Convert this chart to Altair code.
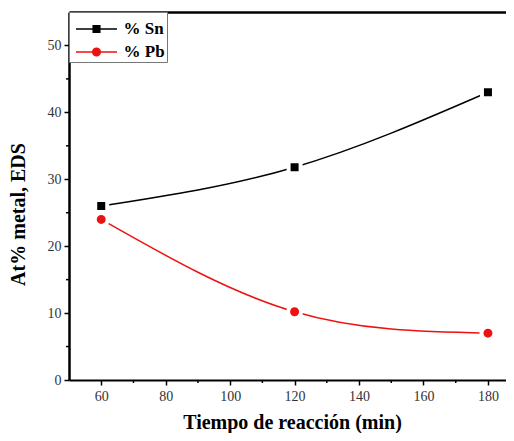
import altair as alt
import pandas as pd

# ---- data ----
tiempo = [60, 120, 180]
sn = [26.0, 31.8, 43.0]
pb = [24.0, 10.2, 7.0]
series = ["% Sn", "% Pb"]
colors = ["#000000", "#ee1111"]
x_ticks = [60, 80, 100, 120, 140, 160, 180]
x_minor = [70, 90, 110, 130, 150, 170]
y_ticks = [0, 10, 20, 30, 40, 50]
y_minor = [5, 15, 25, 35, 45]

W, H = 437, 368
FONT = "Liberation Serif"

df = pd.DataFrame({
    "t": tiempo * 2,
    "v": sn + pb,
    "s": [series[0]] * 3 + [series[1]] * 3,
})
df["leg"] = df["s"]
dx_minor = pd.DataFrame({"m": x_minor})
dy_minor = pd.DataFrame({"m": y_minor})

xs = alt.Scale(domain=[50, 185.6], nice=False, zero=False)
ys = alt.Scale(domain=[0, 55], nice=False, zero=False)
cs = alt.Scale(domain=series, range=colors)

x_axis = alt.Axis(
    values=x_ticks, title="Tiempo de reacción (min)", grid=False,
    domainColor="black", domainWidth=2.2, tickColor="black", tickWidth=1.5, tickSize=5,
    labelFont=FONT, labelFontSize=14, labelColor="#333", labelPadding=4,
    titleFont=FONT, titleFontSize=20, titleFontWeight="bold", titleColor="black",
    titleX=223, titleY=42, titleBaseline="middle",
)
y_axis = alt.Axis(
    values=y_ticks, title="At% metal, EDS", grid=False,
    domainColor="black", domainWidth=2.5, tickColor="black", tickWidth=1.5, tickSize=5,
    labelFont=FONT, labelFontSize=14, labelColor="#333", labelPadding=3,
    titleFont=FONT, titleFontSize=20, titleFontWeight="bold", titleColor="black",
    titleX=-51, titleY=202, titleBaseline="middle", titleAngle=-90,
)
top_axis = alt.Axis(orient="top", labels=False, ticks=False, title=None, grid=False,
                    domainColor="black", domainWidth=2.5)

lines = alt.Chart(df).mark_line(interpolate="natural", strokeWidth=1.5).encode(
    x=alt.X("t:Q", scale=xs, axis=x_axis),
    y=alt.Y("v:Q", scale=ys, axis=y_axis),
    color=alt.Color("s:N", scale=cs, legend=None),
    detail="s:N",
)

points = alt.Chart(df).mark_point(filled=True, opacity=1, stroke="white", strokeWidth=4).encode(
    x=alt.X("t:Q", scale=xs, axis=None),
    y=alt.Y("v:Q", scale=ys, axis=None),
    fill=alt.Fill("s:N", scale=cs, legend=None),
    shape=alt.Shape("s:N", scale=alt.Scale(domain=series, range=["square", "circle"]), legend=None),
    size=alt.Size("s:N", scale=alt.Scale(domain=series, range=[144, 169]), legend=None),
)

# legend symbols: line with marker (size 400 -> 1 unit = 10 px)
sq_path = "M-2.05,0H2.05M-0.33,-0.33H0.33V0.33H-0.33Z"
ci_path = "M-2.05,0H2.05M0.38,0A0.38,0.38,0,1,1,-0.38,0A0.38,0.38,0,1,1,0.38,0Z"

legend = alt.Legend(
    title=" ", titleFontSize=2, titlePadding=2,
    orient="none", legendX=0, legendY=0,
    fillColor="white", strokeColor="#777", padding=2,
    labelFont=FONT, labelFontSize=17, labelFontWeight="bold", labelColor="black",
    labelOffset=16, symbolOffset=14.5, symbolStrokeWidth=1.5, symbolOpacity=1,
    symbolSize=400, rowPadding=4,
)

leg_layer = alt.Chart(df).mark_point(filled=True, opacity=0, size=400).encode(
    x=alt.X("t:Q", scale=xs, axis=None),
    y=alt.Y("v:Q", scale=ys, axis=None),
    color=alt.Color("leg:N", scale=cs, legend=legend),
    stroke=alt.Stroke("leg:N", scale=cs, legend=legend),
    shape=alt.Shape("leg:N", scale=alt.Scale(domain=series, range=[sq_path, ci_path]), legend=legend),
)

xminor = alt.Chart(dx_minor).mark_rule(color="black", strokeWidth=1.5).encode(
    x=alt.X("m:Q", scale=xs, axis=top_axis),
    y=alt.value(H),
    y2=alt.value(H + 3),
)
yminor = alt.Chart(dy_minor).mark_rule(color="black", strokeWidth=1.5).encode(
    y=alt.Y("m:Q", scale=ys, axis=None),
    x=alt.value(0),
    x2=alt.value(-3),
)

chart = alt.layer(lines, points, xminor, yminor, leg_layer).resolve_scale(
    shape="independent", size="independent", color="independent", fill="independent",
    stroke="independent",
).resolve_axis(x="independent", y="independent").properties(
    width=W, height=H,
    autosize=alt.AutoSizeParams(type="none"),
    padding={"left": 61, "top": 4, "right": 0, "bottom": 53},
).configure_view(stroke=None)

chart.save("out.html", embed_options={"renderer": "svg", "actions": False})
